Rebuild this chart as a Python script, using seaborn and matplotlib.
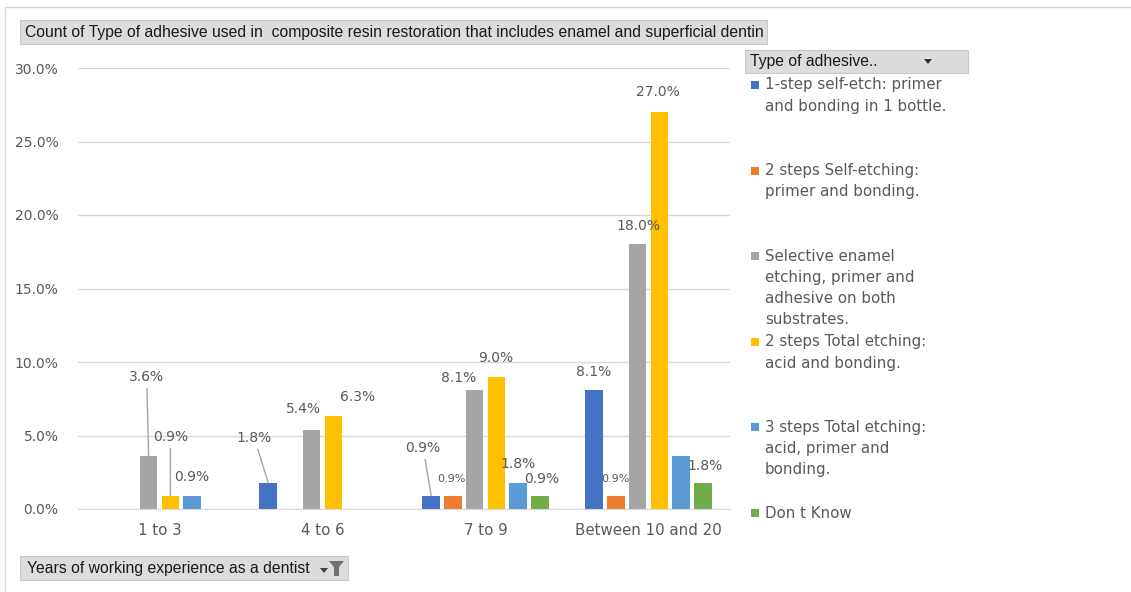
import matplotlib
matplotlib.use("Agg")
import matplotlib.pyplot as plt
import seaborn as sns
import pandas as pd
from matplotlib.patches import Rectangle, Polygon

W, H = 1131, 592

categories = ["1 to 3", "4 to 6", "7 to 9", "Between 10 and 20"]
series_names = [
    "1-step self-etch: primer\nand bonding in 1 bottle.",
    "2 steps Self-etching:\nprimer and bonding.",
    "Selective enamel\netching, primer and\nadhesive on both\nsubstrates.",
    "2 steps Total etching:\nacid and bonding.",
    "3 steps Total etching:\nacid, primer and\nbonding.",
    "Don t Know",
]
one_step = [0.0, 1.8, 0.9, 8.1]
two_self = [0.0, 0.0, 0.9, 0.9]
selective = [3.6, 5.4, 8.1, 18.0]
two_total = [0.9, 6.3, 9.0, 27.0]
three_total = [0.9, 0.0, 1.8, 3.6]
dont_know = [0.0, 0.0, 0.9, 1.8]
colors = ["#4472C4", "#ED7D31", "#A5A5A5", "#FFC000", "#5B9BD5", "#70AD47"]

values = [one_step, two_self, selective, two_total, three_total, dont_know]
rows = []
for s, vals in zip(series_names, values):
    for c, v in zip(categories, vals):
        rows.append({"cat": c, "series": s, "pct": v})
df = pd.DataFrame(rows)

# label placement: (category idx, series idx) -> (dx px, dy px, leader line, small font)
label_spec = {
    (0, 2): (-2, -79, True, False),
    (0, 3): (0, -59, True, False),
    (0, 4): (0, -19, False, False),
    (1, 0): (-14, -45, True, False),
    (1, 2): (-8, -21, False, False),
    (1, 3): (24, -19, False, False),
    (2, 0): (-8, -48, True, False),
    (2, 1): (-1, -17, False, True),
    (2, 2): (-16, -12, False, False),
    (2, 3): (-1, -19, False, False),
    (2, 4): (0, -19, False, False),
    (2, 5): (2, -17, False, False),
    (3, 0): (-1, -18, False, False),
    (3, 1): (0, -17, False, True),
    (3, 2): (1, -18, False, False),
    (3, 3): (-1, -20, False, False),
    (3, 5): (2, -17, False, False),
}

sns.set_style("white")
plt.rcParams["font.family"] = ["DejaVu Sans"]
txt = "#595959"
btn_font = ["Liberation Sans", "DejaVu Sans"]

fig = plt.figure(figsize=(W / 100, H / 100), dpi=100)
ax = fig.add_axes([78 / W, 1 - 509 / H, (730 - 78) / W, (509 - 68) / H])

sns.barplot(data=df, x="cat", y="pct", hue="series", hue_order=series_names,
            palette=colors, saturation=1, width=0.8, gap=0.2, linewidth=0, ax=ax,
            legend=False, errorbar=None)

ax.set_ylim(0, 30)
ax.set_xlim(-0.5, 3.5)
ax.set_yticks(range(0, 31, 5))
ax.set_yticklabels([f"{v:.1f}%" for v in range(0, 31, 5)])
ax.yaxis.grid(True, color="#d9d9d9", lw=1)
ax.set_axisbelow(True)
for sp in ["top", "right", "left"]:
    ax.spines[sp].set_visible(False)
ax.spines["bottom"].set_color("#d9d9d9")
ax.tick_params(axis="y", length=0, labelsize=10, labelcolor=txt, pad=14)
ax.tick_params(axis="x", length=0, labelsize=10.8, labelcolor=txt, pad=10)
ax.set_xlabel("")
ax.set_ylabel("")

for (ci, si), (dx, dy, leader, small) in label_spec.items():
    bar = ax.containers[si][ci]
    x = bar.get_x() + bar.get_width() / 2
    y = bar.get_height()
    arrow = dict(arrowstyle="-", color="#a6a6a6", lw=1, shrinkA=1, shrinkB=0) if leader else None
    ax.annotate(f"{values[si][ci]:.1f}%", xy=(x, y), xytext=(dx, -dy),
                textcoords="offset pixels", ha="center", va="center",
                fontsize=8 if small else 10, color=txt, arrowprops=arrow)


def box(x0, y0, x1, y1, **kw):
    fig.add_artist(Rectangle((x0 / W, 1 - y1 / H), (x1 - x0) / W, (y1 - y0) / H,
                             transform=fig.transFigure, **kw))


# outer border
box(5, 7, W + 5, H + 5, fill=False, ec="#d9d9d9", lw=1)

# title button
box(20, 20, 767, 44, fc="#dcdcdc", ec="#c9c9c9", lw=0.8)
fig.text(25 / W, 1 - 32 / H,
         "Count of Type of adhesive used in  composite resin restoration that includes enamel and superficial dentin",
         ha="left", va="center", fontsize=11.3, color="#1a1a1a", family=btn_font)

# bottom axis field button
box(20, 556, 348, 580, fc="#dcdcdc", ec="#c9c9c9", lw=0.8)
fig.text(27 / W, 1 - 568 / H, "Years of working experience as a dentist",
         ha="left", va="center", fontsize=11.3, color="#1a1a1a", family=btn_font)
fig.add_artist(Polygon([(320 / W, 1 - 568 / H), (328 / W, 1 - 568 / H), (324 / W, 1 - 573 / H)],
                       closed=True, transform=fig.transFigure, fc="#404040", ec="none"))
fig.add_artist(Polygon([(329 / W, 1 - 561 / H), (344 / W, 1 - 561 / H), (339 / W, 1 - 567 / H),
                        (339 / W, 1 - 576 / H), (334 / W, 1 - 576 / H), (334 / W, 1 - 567 / H)],
                       closed=True, transform=fig.transFigure, fc="#707070", ec="none"))

# legend field button
box(745, 50, 968, 73, fc="#dcdcdc", ec="#c9c9c9", lw=0.8)
fig.text(750 / W, 1 - 61.5 / H, "Type of adhesive..", ha="left", va="center",
         fontsize=11.3, color="#1a1a1a", family=btn_font)
fig.add_artist(Polygon([(924 / W, 1 - 59 / H), (932 / W, 1 - 59 / H), (928 / W, 1 - 64 / H)],
                       closed=True, transform=fig.transFigure, fc="#303030", ec="none"))

# legend entries
for i, (name, col) in enumerate(zip(series_names, colors)):
    yc = 85 + i * 85.6
    box(751, yc - 4, 759, yc + 4, fc=col, ec="none")
    fig.text(765 / W, 1 - (yc - 7.5) / H, name, ha="left", va="top", fontsize=10.8,
             color=txt, linespacing=1.52)

fig.savefig("out.png", dpi=100)
